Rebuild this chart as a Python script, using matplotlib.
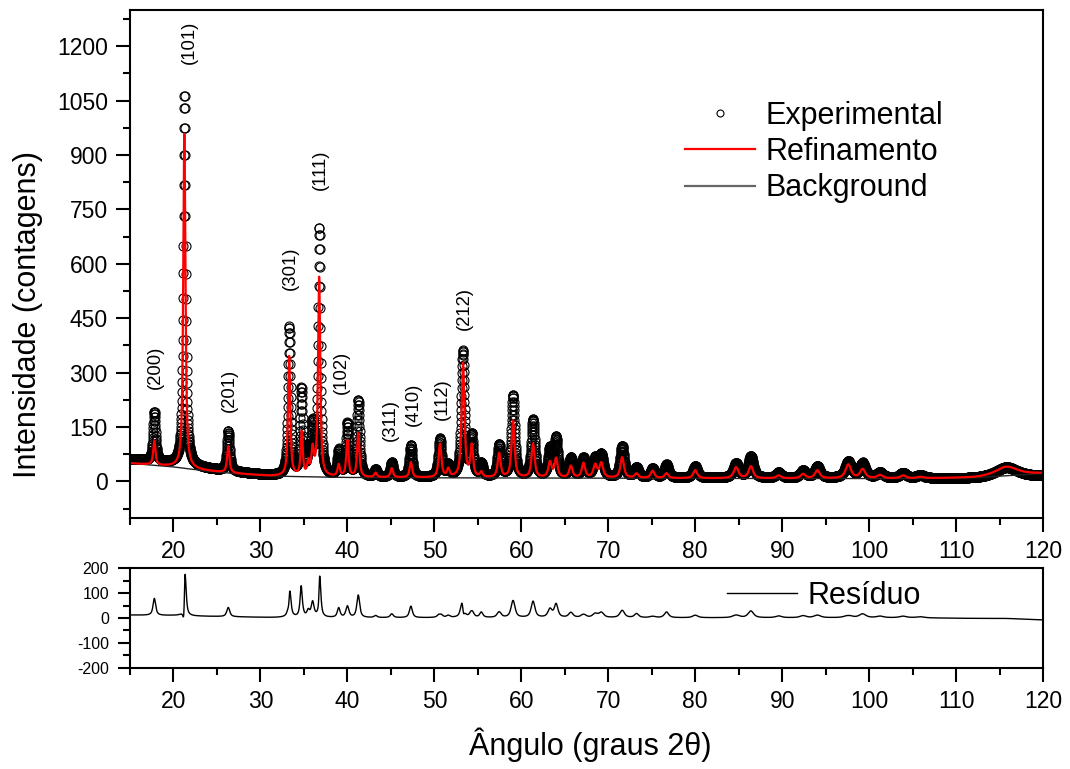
import numpy as np
import matplotlib.pyplot as plt
from matplotlib.lines import Line2D
from matplotlib.ticker import MultipleLocator

plt.rcParams['font.family'] = ['Liberation Sans', 'DejaVu Sans']
plt.rcParams['axes.unicode_minus'] = False

# peak table (2theta, height above background, fwhm)
peak_pos = [17.8, 21.25, 26.3, 33.3, 34.75, 35.5, 36.0, 36.75, 39.0, 40.0, 41.25,
            43.25, 45.1, 47.3, 50.65, 51.6, 53.3, 54.3, 55.4, 57.45, 59.05, 61.35,
            63.3, 64.0, 65.7, 67.15, 68.5, 69.2, 71.6, 73.25, 75.1, 76.7, 80.0,
            84.7, 86.4, 89.6, 92.4, 94.05, 97.6, 99.25, 101.25, 103.9, 105.9, 115.8]
exp_pos = [17.8, 21.27, 26.3, 33.32, 34.72, 35.5, 36.0, 36.77, 39.0, 40.0, 41.25,
           43.25, 45.1, 47.3, 50.65, 51.6, 53.28, 54.3, 55.4, 57.45, 59.05, 61.35,
           63.3, 64.0, 65.7, 67.15, 68.5, 69.2, 71.6, 73.25, 75.1, 76.7, 80.0,
           84.7, 86.4, 89.6, 92.4, 94.05, 97.6, 99.25, 101.25, 103.9, 105.9, 115.8]
calc_height = [67, 925, 73, 330, 120, 35, 70, 550, 32, 100, 120,
               12, 25, 42, 92, 22, 315, 85, 14, 66, 157, 93,
               42, 52, 32, 40, 35, 40, 57, 12, 20, 13, 22,
               30, 33, 8, 12, 22, 38, 25, 9, 8, 4, 25]
exp_height = [135, 1020, 110, 410, 235, 60, 130, 680, 70, 145, 210,
              20, 40, 88, 105, 30, 345, 110, 35, 88, 225, 158,
              75, 105, 52, 52, 50, 60, 86, 28, 25, 36, 32,
              40, 60, 15, 20, 32, 46, 40, 15, 14, 8, 28]
fwhm = [0.30, 0.30, 0.32, 0.30, 0.28, 0.28, 0.32, 0.30, 0.32, 0.32, 0.32,
        0.35, 0.35, 0.35, 0.38, 0.35, 0.38, 0.36, 0.36, 0.40, 0.40, 0.42,
        0.45, 0.42, 0.45, 0.45, 0.50, 0.50, 0.48, 0.48, 0.50, 0.50, 0.55,
        0.65, 0.60, 0.65, 0.65, 0.65, 0.75, 0.70, 0.75, 0.75, 0.85, 3.0]
exp_fwhm = [0.33, 0.31, 0.35, 0.33, 0.31, 0.31, 0.35, 0.31, 0.35, 0.35, 0.35,
            0.38, 0.38, 0.38, 0.42, 0.38, 0.42, 0.40, 0.40, 0.44, 0.44, 0.46,
            0.50, 0.46, 0.50, 0.50, 0.55, 0.55, 0.53, 0.53, 0.55, 0.55, 0.60,
            0.72, 0.66, 0.72, 0.72, 0.72, 0.82, 0.77, 0.82, 0.82, 0.94, 3.1]

bg_x = [15, 17, 20, 22, 25, 28, 31, 35, 40, 50, 70, 90, 105, 112, 120]
bg_calc = [50, 46, 40, 34, 26, 20, 15, 13, 11, 10, 9, 8, 8, 10, 22]
bg_exp = [62, 57, 50, 42, 32, 24, 17, 14, 12, 11, 10, 9, 9, 8, 14]

hkl = ['(200)', '(101)', '(201)', '(301)', '(111)', '(102)', '(311)', '(410)', '(112)', '(212)']
hkl_x = [17.95, 21.8, 26.4, 33.4, 36.95, 39.3, 45.0, 47.55, 50.9, 53.5]
hkl_y = [316, 1210, 252, 588, 860, 300, 170, 213, 227, 477]


def pseudo_voigt(x, x0, h, w, eta=0.8):
    u = (x - x0) / w
    return h * (eta / (1 + 4 * u ** 2) + (1 - eta) * np.exp(-4 * np.log(2) * u ** 2))


two_theta = np.arange(15, 120.001, 0.02)
calc = np.interp(two_theta, bg_x, bg_calc)
expt = np.interp(two_theta, bg_x, bg_exp)
for p, pe, hc, he, w, we in zip(peak_pos, exp_pos, calc_height, exp_height, fwhm, exp_fwhm):
    calc += pseudo_voigt(two_theta, p, hc, w)
    expt += pseudo_voigt(two_theta, pe, he, we)
resid = expt - calc

fig = plt.figure(figsize=(10.7, 7.69), dpi=100)
ax = fig.add_axes([0.1215, 0.3268, 0.8533, 0.6602])
ax_r = fig.add_axes([0.1215, 0.1317, 0.8533, 0.1293])

ax.plot(two_theta, expt, ls='none', marker='o', mfc='none', mec='k', ms=6.5, mew=0.8)
ax.plot(bg_x, bg_calc, color='#222222', lw=1)
ax.plot(two_theta, calc, color='red', lw=1.6)

for lab, x, y in zip(hkl, hkl_x, hkl_y):
    ax.text(x, y, lab, rotation=90, ha='center', va='center', fontsize=13.3)

ax.set_xlim(15, 120)
ax.set_ylim(-100, 1300)
ax.yaxis.set_major_locator(MultipleLocator(150))
ax.yaxis.set_minor_locator(MultipleLocator(75))
ax.set_yticks(np.arange(0, 1201, 150))
ax.xaxis.set_major_locator(MultipleLocator(10))
ax.xaxis.set_minor_locator(MultipleLocator(5))
ax.tick_params(which='major', length=10, width=1.5, labelsize=16.5, pad=6)
ax.tick_params(which='minor', length=5, width=1.5)
for s in ax.spines.values():
    s.set_linewidth(1.5)

handles = [
    Line2D([], [], ls='none', marker='o', mfc='none', mec='k', ms=5, mew=0.8),
    Line2D([], [], color='red', lw=1.6),
    Line2D([], [], color='#666666', lw=1.6),
]
ax.legend(handles, ['Experimental', 'Refinamento', 'Background'],
          loc='upper left', bbox_to_anchor=(685 / 1070, 1 - 101 / 769),
          bbox_transform=fig.transFigure, frameon=False, fontsize=22,
          handlelength=2.3, handletextpad=0.35, labelspacing=0.2,
          borderpad=0, borderaxespad=0)

ax_r.plot(two_theta, resid, color='k', lw=1)
ax_r.set_xlim(15, 120)
ax_r.set_ylim(-200, 200)
ax_r.yaxis.set_major_locator(MultipleLocator(100))
ax_r.yaxis.set_minor_locator(MultipleLocator(50))
ax_r.xaxis.set_major_locator(MultipleLocator(10))
ax_r.xaxis.set_minor_locator(MultipleLocator(5))
ax_r.tick_params(axis='y', which='major', length=9, width=1.5, labelsize=11.5, pad=6)
ax_r.tick_params(axis='y', which='minor', length=5, width=1.5)
ax_r.tick_params(axis='x', which='major', length=10, width=1.5, labelsize=16.5, pad=6)
ax_r.tick_params(axis='x', which='minor', length=5, width=1.5)
for s in ax_r.spines.values():
    s.set_linewidth(1.5)
ax_r.legend([Line2D([], [], color='k', lw=1)], ['Resíduo'],
            loc='upper left', bbox_to_anchor=(727 / 1070, 1 - 581 / 769),
            bbox_transform=fig.transFigure, frameon=False, fontsize=22,
            handlelength=2.3, handletextpad=0.35, borderpad=0, borderaxespad=0)

fig.text(28 / 1070, 1 - 315 / 769, 'Intensidade (contagens)', rotation=90,
         ha='center', va='center', fontsize=22)
fig.text(590 / 1070, 1 - 745 / 769, 'Ângulo (graus 2θ)', ha='center', va='center',
         fontsize=22)

fig.savefig('out.png', dpi=100)
